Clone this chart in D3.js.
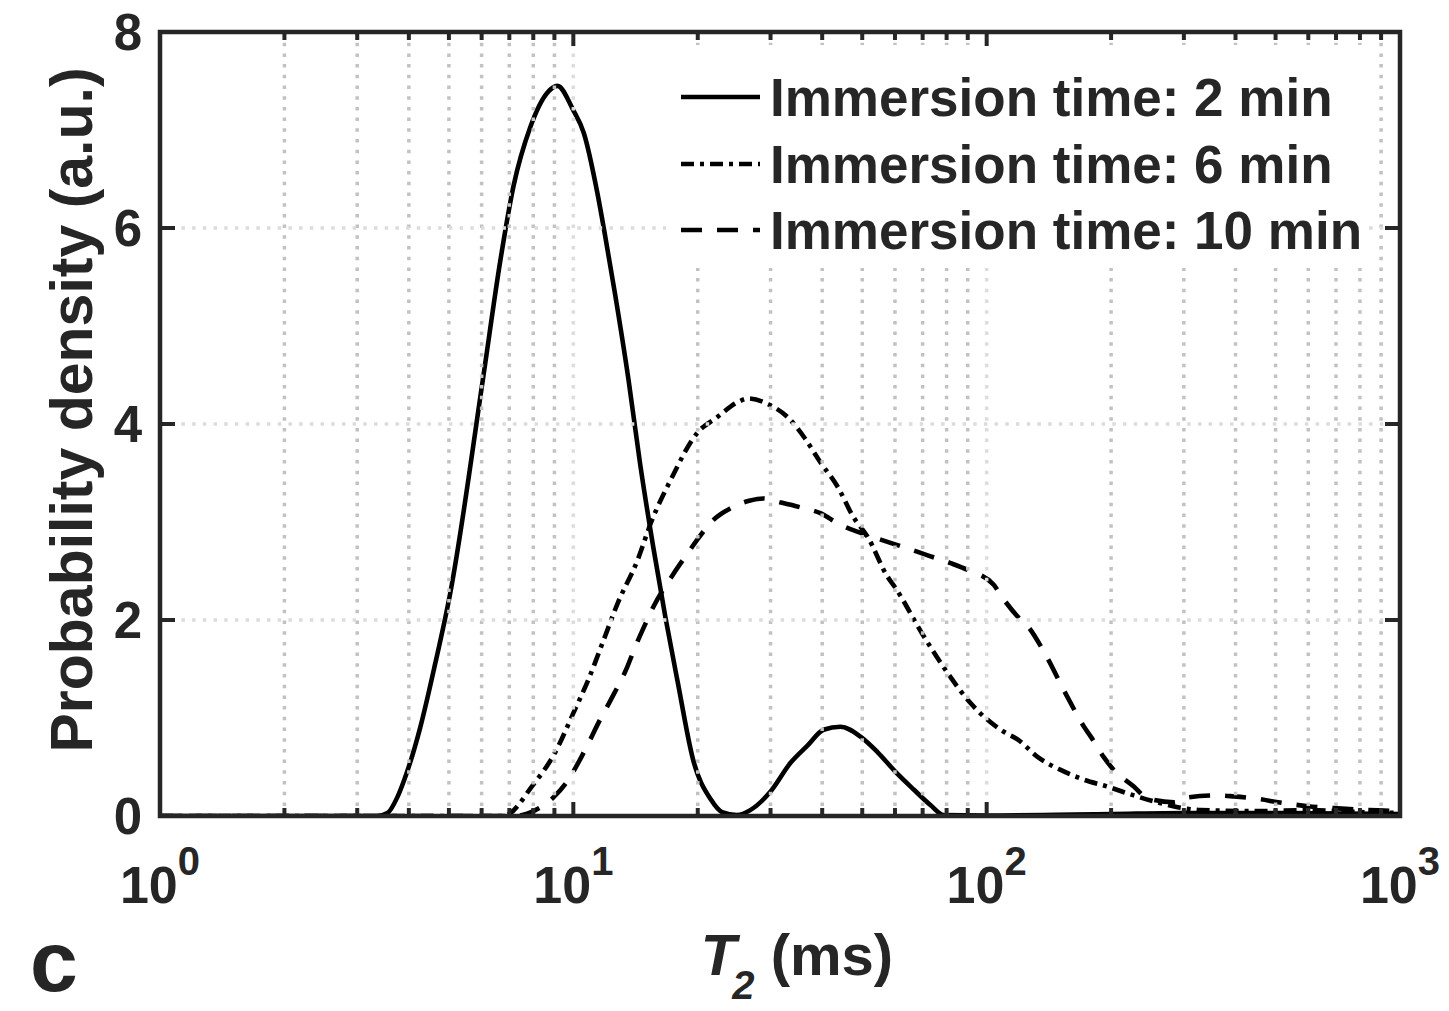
<!DOCTYPE html>
<html>
<head>
<meta charset="utf-8">
<script src="https://cdn.jsdelivr.net/npm/d3@7"></script>
<style>
  body { margin: 0; background: #fff; }
  svg text { font-family: "Liberation Sans", Arial, Helvetica, sans-serif; font-weight: bold; fill: #262626; }
</style>
</head>
<body>
<svg id="chart" width="1449" height="1011"></svg>
<script>
// T2 (ms) and probability density
const T_2MIN = [1, 3.0, 3.35, 3.55, 3.75, 3.9, 4.26, 4.63, 5.04, 6.04, 6.66, 7.16, 7.87, 8.65, 9.15, 10.0, 10.6,
  11.43, 11.95, 12.6, 13.6, 14.5, 15.6, 16.7, 17.9, 19.5, 21.5, 22.9, 24.9, 26.8, 30, 33.5, 36.9, 40.3,
  44.3, 49.5, 54.5, 60.2, 66.6, 73.2, 78.7, 100, 200, 300, 500, 1000];
const P_2MIN = [0, 0, 0, 0.03, 0.19, 0.37, 0.9, 1.55, 2.28, 4.45, 5.67, 6.42, 7.03, 7.38, 7.45, 7.2, 6.97,
  6.36, 5.91, 5.34, 4.45, 3.6, 2.75, 2.03, 1.36, 0.57, 0.17, 0.04, 0.01, 0.06, 0.25, 0.54, 0.72, 0.88,
  0.91, 0.81, 0.65, 0.45, 0.27, 0.11, 0.01, 0.005, 0.02, 0.03, 0.03, 0.02];

const T_6MIN = [1, 6.77, 8.0, 9.04, 10.0, 10.87, 11.8, 12.8, 14.3, 15.4, 17.2, 19.95, 22.3, 24.9, 26.5, 30,
  33, 36.1, 39.6, 43.6, 47.6, 51.5, 57.6, 59.9, 69.6, 80.4, 91.5, 110, 119, 133, 151, 172, 196, 227,
  259, 290, 330, 450, 600, 800, 1000];
const P_6MIN = [0, 0, 0.32, 0.65, 1.05, 1.39, 1.78, 2.17, 2.61, 2.99, 3.43, 3.91, 4.07, 4.22, 4.26, 4.19,
  4.07, 3.87, 3.61, 3.36, 3.05, 2.85, 2.44, 2.34, 1.87, 1.46, 1.15, 0.86, 0.78, 0.6, 0.47, 0.37, 0.3, 0.21,
  0.14, 0.09, 0.06, 0.05, 0.06, 0.04, 0.03];

const T_10MIN = [1, 7.24, 8.09, 8.95, 9.83, 10.3, 10.87, 11.5, 12.3, 13.5, 14.1, 14.9, 15.6, 17.4, 18.9,
  19.95, 21.8, 24, 26.8, 28.8, 31.7, 35.4, 39.6, 44.3, 49.5, 55.4, 64.4, 72, 81.8, 90, 104, 108.7, 121,
  126, 137, 157, 172, 178.6, 192, 203, 227, 245, 284, 307, 362, 396, 461, 507, 599, 692, 836, 1000];
const P_10MIN = [0, 0, 0.06, 0.19, 0.4, 0.55, 0.74, 0.95, 1.18, 1.52, 1.72, 1.95, 2.13, 2.46, 2.68,
  2.82, 3.02, 3.14, 3.22, 3.24, 3.2, 3.15, 3.09, 2.97, 2.89, 2.82, 2.73, 2.66, 2.58, 2.51, 2.36, 2.24, 2.0,
  1.93, 1.69, 1.21, 0.91, 0.81, 0.6, 0.47, 0.3, 0.18, 0.14, 0.19, 0.21, 0.2, 0.17, 0.14, 0.1, 0.08, 0.06, 0.05];

const SERIES_LABELS = ["Immersion time: 2 min", "Immersion time: 6 min", "Immersion time: 10 min"];
const X_TICK_EXPONENTS = [0, 1, 2, 3];
const Y_TICKS = [0, 2, 4, 6, 8];

const LEFT = 160, RIGHT = 1400, TOP = 32, BOTTOM = 816;
const INK = "#262626";

const svg = d3.select("#chart");
const x = d3.scaleLog().domain([1, 1000]).range([LEFT, RIGHT]);
const y = d3.scaleLinear().domain([0, 8]).range([BOTTOM, TOP]);

const series = [
  {T: T_2MIN, P: P_2MIN, dash: null},
  {T: T_6MIN, P: P_6MIN, dash: "13,6,4,6"},
  {T: T_10MIN, P: P_10MIN, dash: "21,15"}
];

svg.append("defs").append("clipPath").attr("id", "plotclip")
  .append("rect").attr("x", LEFT).attr("y", TOP).attr("width", RIGHT - LEFT).attr("height", BOTTOM - TOP);

// curves
const line = d3.line().x(d => x(d[0])).y(d => y(d[1])).curve(d3.curveMonotoneX);
const curves = svg.append("g").attr("clip-path", "url(#plotclip)");
series.forEach(s => {
  curves.append("path")
    .attr("d", line(d3.zip(s.T, s.P)))
    .attr("fill", "none")
    .attr("stroke", "#000")
    .attr("stroke-width", 4.6)
    .attr("stroke-linejoin", "round")
    .attr("stroke-dasharray", s.dash);
});

// grid on top of data (MATLAB layer top)
const majorX = X_TICK_EXPONENTS.map(e => Math.pow(10, e));
const minorX = [];
[1, 10, 100].forEach(d => { for (let k = 2; k <= 9; k++) minorX.push(k * d); });

const grid = svg.append("g");
grid.selectAll(".minor").data(minorX).enter().append("line")
  .attr("x1", d => x(d)).attr("x2", d => x(d)).attr("y1", TOP).attr("y2", BOTTOM)
  .attr("stroke", "#c2c2c2").attr("stroke-width", 3.5).attr("stroke-dasharray", "3.5,7.2");
grid.selectAll(".majx").data(majorX.slice(1, -1)).enter().append("line")
  .attr("x1", d => x(d)).attr("x2", d => x(d)).attr("y1", TOP).attr("y2", BOTTOM)
  .attr("stroke", "#dcdcdc").attr("stroke-width", 3.5).attr("stroke-dasharray", "3.5,7.2");
grid.selectAll(".majy").data(Y_TICKS.slice(1, -1)).enter().append("line")
  .attr("x1", LEFT).attr("x2", RIGHT).attr("y1", d => y(d)).attr("y2", d => y(d))
  .attr("stroke", "#dcdcdc").attr("stroke-width", 3.5).attr("stroke-dasharray", "3.5,7.2");

// legend background hides grid
svg.append("rect").attr("x", 666).attr("y", 45).attr("width", 702).attr("height", 223).attr("fill", "#fff");

// axes with inward ticks
const ticks = svg.append("g").attr("stroke", INK);
majorX.forEach(v => {
  ticks.append("line").attr("x1", x(v)).attr("x2", x(v)).attr("y1", BOTTOM).attr("y2", BOTTOM - 14).attr("stroke-width", 4);
  ticks.append("line").attr("x1", x(v)).attr("x2", x(v)).attr("y1", TOP).attr("y2", TOP + 14).attr("stroke-width", 4);
});
minorX.forEach(v => {
  ticks.append("line").attr("x1", x(v)).attr("x2", x(v)).attr("y1", BOTTOM).attr("y2", BOTTOM - 8).attr("stroke-width", 4);
  ticks.append("line").attr("x1", x(v)).attr("x2", x(v)).attr("y1", TOP).attr("y2", TOP + 8).attr("stroke-width", 4);
});
Y_TICKS.forEach(v => {
  ticks.append("line").attr("x1", LEFT).attr("x2", LEFT + 15).attr("y1", y(v)).attr("y2", y(v)).attr("stroke-width", 4);
  ticks.append("line").attr("x1", RIGHT).attr("x2", RIGHT - 15).attr("y1", y(v)).attr("y2", y(v)).attr("stroke-width", 4);
});
svg.append("rect").attr("x", LEFT).attr("y", TOP).attr("width", RIGHT - LEFT).attr("height", BOTTOM - TOP)
  .attr("fill", "none").attr("stroke", INK).attr("stroke-width", 4.5);

// tick labels
svg.selectAll(".ylab").data(Y_TICKS).enter().append("text")
  .attr("x", LEFT - 18).attr("y", d => y(d)).attr("dy", "0.36em")
  .attr("text-anchor", "end").attr("font-size", 51).text(d => d);

const xl = svg.selectAll(".xlab").data(X_TICK_EXPONENTS).enter().append("text")
  .attr("x", d => x(Math.pow(10, d))).attr("y", 903)
  .attr("text-anchor", "middle").attr("font-size", 52);
xl.append("tspan").text("10");
xl.append("tspan").attr("font-size", 40).attr("dy", -28).text(d => d);

// axis titles
svg.append("text")
  .attr("transform", `translate(92, 410) rotate(-90)`)
  .attr("text-anchor", "middle").attr("font-size", 59)
  .text("Probability density (a.u.)");

const xt = svg.append("text").attr("x", 797).attr("y", 975).attr("text-anchor", "middle").attr("font-size", 58);
xt.append("tspan").attr("font-style", "italic").text("T");
xt.append("tspan").attr("font-style", "italic").attr("font-size", 40).attr("dx", -4).attr("dy", 24).text("2");
xt.append("tspan").attr("dy", -24).text(" (ms)");

svg.append("text").attr("x", 30).attr("y", 991).attr("font-size", 86).attr("fill", "#111").text("c");

// legend
const legendRows = [97, 164, 230];
series.forEach((s, i) => {
  svg.append("line").attr("x1", 681).attr("x2", 760).attr("y1", legendRows[i]).attr("y2", legendRows[i])
    .attr("stroke", "#000").attr("stroke-width", 4.6).attr("stroke-dasharray", s.dash);
  svg.append("text").attr("x", 770).attr("y", legendRows[i]).attr("dy", "0.36em")
    .attr("font-size", 53).attr("fill", "#000").text(SERIES_LABELS[i]);
});
</script>
</body>
</html>
